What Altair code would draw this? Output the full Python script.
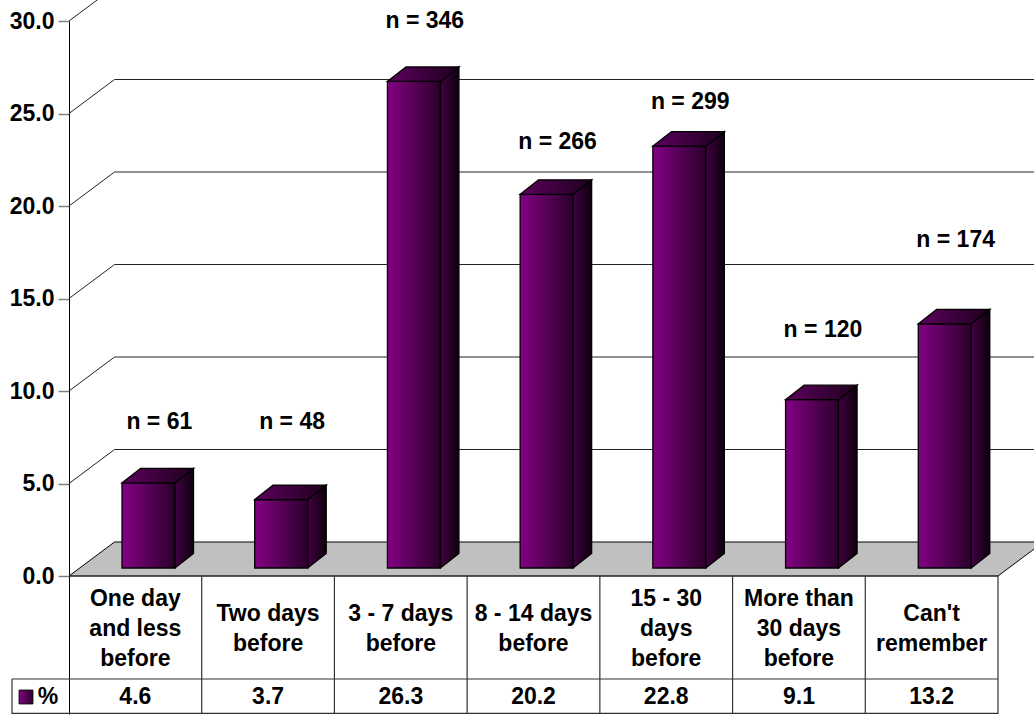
import altair as alt
import pandas as pd

# ---------------- data ----------------
categories = ["One day\nand less\nbefore", "Two days\nbefore", "3 - 7 days\nbefore",
              "8 - 14 days\nbefore", "15 - 30\ndays\nbefore", "More than\n30 days\nbefore",
              "Can't\nremember"]
percent = [4.6, 3.7, 26.3, 20.2, 22.8, 9.1, 13.2]
counts = [61, 48, 346, 266, 299, 120, 174]
label_heights = [8.32, 8.32, 30.0, 23.46, 25.62, 13.3, 18.16]   # where the "n = " notes sit
y_ticks = [0, 5, 10, 15, 20, 25, 30]

# ---------------- geometry (pseudo-3D) ----------------
N = len(categories)
W, H = 929, 693
PX_X = W / N
Y_MAX = 30.0
PX_Y = 18.5
Y_MIN = Y_MAX - H / PX_Y
WALL_DX, WALL_DY = 45.5 / PX_X, 34 / PX_Y
BAR_L, BAR_W = 53 / PX_X, 53 / PX_X
BAR_DX, BAR_DY = 18.5 / PX_X, 14.5 / PX_Y
BAR_B = 8 / PX_Y
HEAD_Y = -103 / PX_Y
HEAD_TXT_Y = -53 / PX_Y
LINE_H = 30
VAL_TXT_Y = -121 / PX_Y
LEG_X = -57 / PX_X
FONT = "Liberation Sans"

xs = alt.Scale(domain=[0, N], nice=False, zero=False)
ys = alt.Scale(domain=[Y_MIN, Y_MAX], nice=False, zero=False)
yaxis = alt.Axis(values=y_ticks, format=".1f", labelFont=FONT, labelFontSize=23,
                 labelFontWeight="bold", labelColor="black", tickSize=11,
                 tickColor="#808080", tickWidth=1.5, domainColor="black",
                 domainWidth=1, grid=False, labelPadding=4, title=None)


def X(f="x"):
    return alt.X(f"{f}:Q", scale=xs, axis=None)


def Y(f="y"):
    return alt.Y(f"{f}:Q", scale=ys, axis=yaxis)


def grad(c0, c1):
    return alt.LinearGradient(gradient="linear", x1=0, x2=1, y1=0, y2=0,
                              stops=[alt.GradientStop(offset=0, color=c0),
                                     alt.GradientStop(offset=1, color=c1)])


# floor
floor_df = pd.DataFrame([
    {"y": 0.0, "x": 0.0, "x2": float(N)},
    {"y": WALL_DY, "x": WALL_DX, "x2": N + WALL_DX},
])
floor = alt.Chart(floor_df).mark_area(orient="horizontal", fill="#c0c0c0",
                                      stroke="black", strokeWidth=1).encode(
    y=Y(), x=X(), x2="x2:Q")

# back wall grid lines
grid_rows = []
for g in y_ticks[1:]:
    grid_rows += [
        {"g": g, "o": 0, "x": 0.0, "y": g},
        {"g": g, "o": 1, "x": WALL_DX, "y": g + WALL_DY},
        {"g": g, "o": 2, "x": N + WALL_DX, "y": g + WALL_DY},
    ]
grid = alt.Chart(pd.DataFrame(grid_rows)).mark_line(color="#222", strokeWidth=1).encode(
    x=X(), y=Y(), detail="g:N", order="o:Q")

# bars
front_rows, side_rows, top_rows = [], [], []
for i, v in enumerate(percent):
    xl = i + BAR_L
    xr = xl + BAR_W
    front_rows.append({"c": i, "x": xl, "x2": xr, "y": BAR_B, "y2": v + BAR_B})
    side_rows += [
        {"c": i, "x": xr, "y": v + BAR_B, "y2": BAR_B},
        {"c": i, "x": xr + BAR_DX, "y": v + BAR_B + BAR_DY, "y2": BAR_B + BAR_DY},
    ]
    top_rows += [
        {"c": i, "y": v + BAR_B, "x": xl, "x2": xr},
        {"c": i, "y": v + BAR_B + BAR_DY, "x": xl + BAR_DX, "x2": xr + BAR_DX},
    ]

front = alt.Chart(pd.DataFrame(front_rows)).mark_rect(
    fill=grad("#840084", "#2a002a"), stroke="black", strokeWidth=1.3).encode(
    x=X(), x2="x2:Q", y=Y(), y2="y2:Q")
side = alt.Chart(pd.DataFrame(side_rows)).mark_area(
    orient="vertical", fill=grad("#420042", "#0c000c"), stroke="black", strokeWidth=1.3).encode(
    x=X(), y=Y(), y2="y2:Q", detail="c:N")
top = alt.Chart(pd.DataFrame(top_rows)).mark_area(
    orient="horizontal", fill=grad("#5c005c", "#1e001e"), stroke="black", strokeWidth=1.3).encode(
    y=Y(), x=X(), x2="x2:Q", detail="c:N")

# n labels
lab_df = pd.DataFrame({
    "x": [i + 0.5 + 24 / PX_X for i in range(N)],
    "y": label_heights,
    "t": [f"n = {n}" for n in counts],
})
labels = alt.Chart(lab_df).mark_text(font=FONT, fontSize=23, fontWeight="bold",
                                     color="black", baseline="middle").encode(
    x=X(), y=Y(), text="t:N")

# data table lines
vrules = pd.DataFrame({"x": [float(k) for k in range(1, N + 1)] + [LEG_X],
                       "y": [Y_MIN] * N + [Y_MIN],
                       "y2": [0.0] * N + [HEAD_Y]})
vlines = alt.Chart(vrules).mark_rule(color="#333", strokeWidth=1.2).encode(
    x=X(), y=Y(), y2="y2:Q")
hrules = pd.DataFrame({"y": [0.0, HEAD_Y, Y_MIN + 0.03],
                       "x": [0.0, LEG_X, LEG_X],
                       "x2": [float(N)] * 3})
hlines = alt.Chart(hrules).mark_rule(color="#333", strokeWidth=1.2).encode(
    y=Y(), x=X(), x2="x2:Q")

# header text: first line placed so the whole block is centred in the row
head_df = pd.DataFrame({
    "x": [i + 0.5 for i in range(N)],
    "y": [HEAD_TXT_Y + (c.count("\n") * LINE_H / 2) / PX_Y for c in categories],
    "t": categories,
})
heads = alt.Chart(head_df).mark_text(font=FONT, fontSize=23, fontWeight="bold",
                                     color="black", baseline="middle", lineBreak="\n",
                                     lineHeight=LINE_H).encode(x=X(), y=Y(), text="t:N")
val_df = pd.DataFrame({"x": [i + 0.5 for i in range(N)], "y": [VAL_TXT_Y] * N,
                       "t": [f"{p:.1f}" for p in percent]})
vals = alt.Chart(val_df).mark_text(font=FONT, fontSize=23, fontWeight="bold",
                                   color="black", baseline="middle").encode(
    x=X(), y=Y(), text="t:N")

# legend key inside the table
leg_sq = alt.Chart(pd.DataFrame({"x": [-43 / PX_X], "y": [VAL_TXT_Y]})).mark_square(
    size=190, fill=grad("#840084", "#2a002a"), stroke="black", strokeWidth=1, opacity=1).encode(
    x=X(), y=Y())
leg_tx = alt.Chart(pd.DataFrame({"x": [-21 / PX_X], "y": [VAL_TXT_Y], "t": ["%"]})).mark_text(
    font=FONT, fontSize=23, fontWeight="bold", color="black", baseline="middle").encode(
    x=X(), y=Y(), text="t:N")

chart = alt.layer(floor, grid, front, side, top, labels, vlines, hlines, heads, vals,
                  leg_sq, leg_tx).properties(
    width=W, height=H,
    autosize=alt.AutoSizeParams(type="none"),
    padding={"left": 69, "top": 21, "right": 36, "bottom": 1},
    background="white",
).configure_view(stroke=None)

chart.save("out.html", embed_options={"renderer": "svg", "actions": False})
